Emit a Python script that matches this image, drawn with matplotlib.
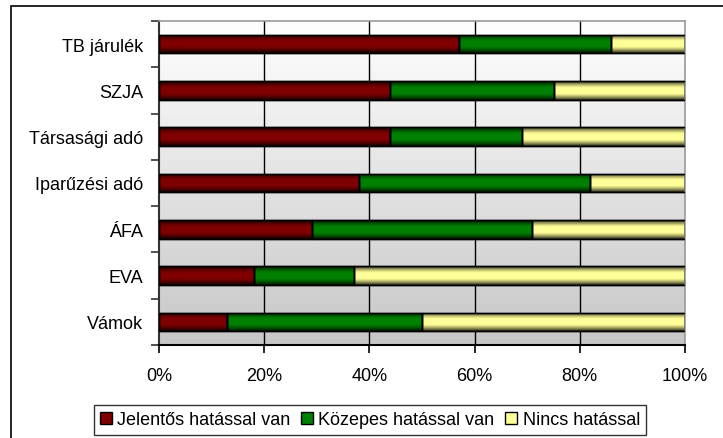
import numpy as np
import matplotlib
matplotlib.use("Agg")
import matplotlib.pyplot as plt
from matplotlib.patches import Rectangle

plt.rcParams['font.family'] = ['Liberation Sans', 'DejaVu Sans']

categories = ["TB járulék", "SZJA", "Társasági adó", "Iparűzési adó", "ÁFA", "EVA", "Vámok"]
jelentos = [57, 44, 44, 38, 29, 18, 13]
kozepes = [29, 31, 25, 44, 42, 19, 37]
nincs = [14, 25, 31, 18, 29, 63, 50]
series_names = ["Jelentős hatással van", "Közepes hatással van", "Nincs hatással"]
series_colors = ["#800000", "#008000", "#ffff99"]
xticks = [0, 20, 40, 60, 80, 100]
xtick_labels = ["0%", "20%", "40%", "60%", "80%", "100%"]

W, H = 723, 439
fig = plt.figure(figsize=(W / 100, H / 100), dpi=100)
fig.patch.set_facecolor("white")

# outer chart frame
fig.patches.append(Rectangle((11 / W, -0.1), 1.2, 1.1 - 7 / H, transform=fig.transFigure,
                             fill=False, edgecolor="black", linewidth=1.2, zorder=0))

ax = fig.add_axes([159 / W, (H - 346) / H, (685 - 159) / W, (346 - 22) / H])
ax.set_xlim(0, 100)
n = len(categories)
ax.set_ylim(n - 0.5, -0.5)

# plot-area background: white at top fading to grey at bottom
grad = np.linspace(0, 1, 256).reshape(-1, 1)
bg = np.ones((256, 1, 3)) * (1.0 - 0.22 * grad)[:, :, None]
ax.imshow(bg, extent=(0, 100, n - 0.5, -0.5), aspect="auto", zorder=0, interpolation="bilinear")

for x in xticks[1:-1]:
    ax.axvline(x, color="black", linewidth=1.0, zorder=1)

# shading overlay to give bars a rounded look
prof = np.linspace(-1, 1, 64)
alpha = np.clip(np.abs(prof) - 0.3, 0, None) / 0.7
shade = np.zeros((64, 1, 4))
shade[:, 0, 3] = 0.85 * alpha ** 1.3

y = np.arange(n)
left = np.zeros(n)
bar_h = 0.4
for vals, col, name in zip([jelentos, kozepes, nincs], series_colors, series_names):
    bars = ax.barh(y, vals, left=left, height=bar_h, color=col, edgecolor="black",
                   linewidth=1.0, label=name, zorder=2)
    for b in bars:
        x0, y0 = b.get_x(), b.get_y()
        w, h = b.get_width(), b.get_height()
        im = ax.imshow(shade, extent=(x0, x0 + w, y0 + h, y0), aspect="auto",
                       zorder=2.5, interpolation="bilinear")
        im.set_clip_path(b)
        ax.add_patch(Rectangle((x0, y0), w, h, fill=False, edgecolor="black",
                               linewidth=1.0, zorder=3))
    left = left + np.array(vals)

ax.set_xlim(0, 100)
ax.set_ylim(n - 0.5, -0.5)

ax.set_yticks(y)
ax.set_yticklabels(categories, fontsize=13)
ax.set_yticks(np.arange(-0.5, n, 1), minor=True)
ax.tick_params(axis="y", which="major", length=0, pad=11.5)
ax.tick_params(axis="y", which="minor", length=6, width=1.2, direction="out", color="#333333")
ax.set_xticks(xticks)
ax.set_xticklabels(xtick_labels, fontsize=13)
ax.tick_params(axis="x", length=6, width=1.2, direction="out", pad=10)

for side in ["top", "right"]:
    ax.spines[side].set_color("#999999")
    ax.spines[side].set_linewidth(1.2)
ax.spines["left"].set_color("#333333")
ax.spines["left"].set_linewidth(1.5)
ax.spines["bottom"].set_color("black")
ax.spines["bottom"].set_linewidth(1.5)

handles, labels = ax.get_legend_handles_labels()
leg = fig.legend(handles, labels, loc="center", bbox_to_anchor=(370 / W, 1 - 421 / H),
                 ncol=3, fontsize=13, frameon=True, fancybox=False, edgecolor="black",
                 handlelength=0.65, handleheight=0.65, handletextpad=0.3, columnspacing=0.6,
                 borderpad=0.35, borderaxespad=0)
leg.get_frame().set_linewidth(1.0)

fig.savefig("out.png", dpi=100)
